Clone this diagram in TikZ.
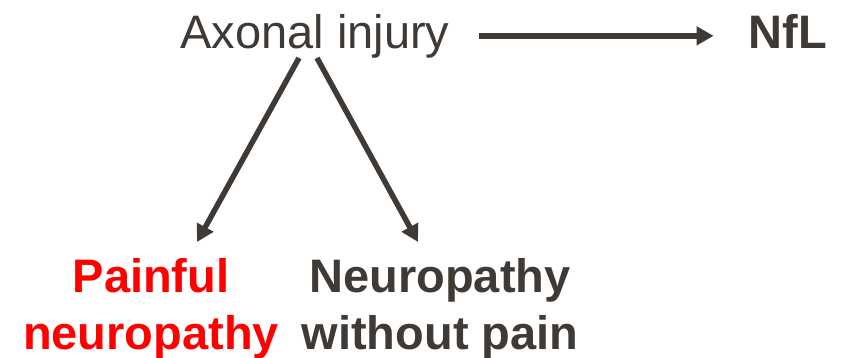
\documentclass[tikz,border=0pt]{standalone}
\usepackage{fontspec}
\setmainfont{Liberation Sans}
\usetikzlibrary{arrows.meta}
\definecolor{ink}{RGB}{64,58,54}
\definecolor{hot}{RGB}{255,0,0}
\tikzset{
    lbl/.style={inner sep=0pt, font=\fontsize{47}{57}\selectfont, text=ink},
    hd/.style={lbl, font=\fontsize{47}{57}\selectfont\bfseries, align=center, anchor=north},
    link/.style={->, draw=ink, line width=5.5pt}
}

\begin{document}
\begin{tikzpicture}[x=1pt, y=-1pt, >={Triangle[length=17pt,width=18pt]}]
    \useasboundingbox (0,0) rectangle (851,357);
    \node[lbl, anchor=base] (ax) at (315,48) {Axonal injury};
    \node[lbl, anchor=base, font=\fontsize{47}{57}\selectfont\bfseries] (nfl) at (788,48) {NfL};
    \node[hd, text=hot] (pain) at (151,258) {Painful\\neuropathy};
    \node[hd] (neu) at (440,258) {Neuropathy\\without pain};
    \draw[link, shorten <=29pt, shorten >=35pt] (ax.east) -- (ax.east -| nfl.west);
    \draw[link] ([xshift=-16pt]ax.south) -- ([xshift=46pt,yshift=16pt]pain.north);
    \draw[link] ([xshift=2pt]ax.south) -- ([xshift=-22pt,yshift=16pt]neu.north);
\end{tikzpicture}
\end{document}
